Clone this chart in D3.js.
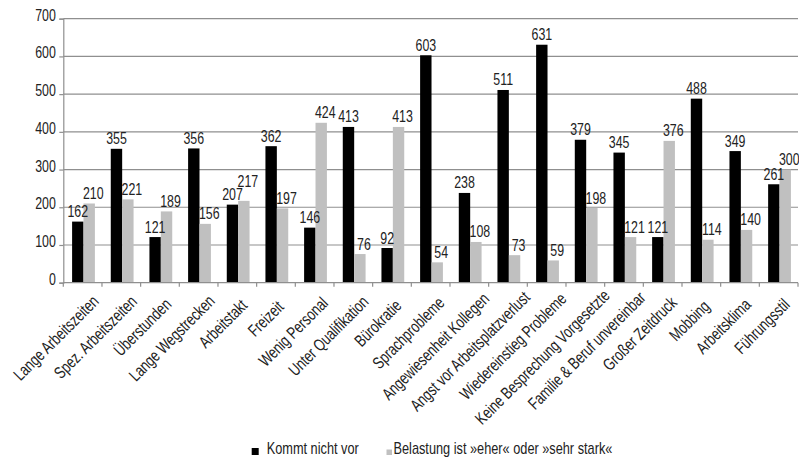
<!DOCTYPE html>
<html>
<head>
<meta charset="utf-8">
<script src="https://cdn.jsdelivr.net/npm/d3@7/dist/d3.min.js"></script>
<style>
  html, body { margin: 0; padding: 0; background: #fff; }
  svg { display: block; }
  text { font-family: "Liberation Sans", Arial, sans-serif; fill: #222; }
</style>
</head>
<body>
<svg id="chart" width="799" height="459"></svg>
<script>
// Belastungsfaktoren: "kommt nicht vor" vs. "Belastung ist eher oder sehr stark"
const categories = [
  "Lange Arbeitszeiten", "Spez. Arbeitszeiten", "Überstunden", "Lange Wegstrecken",
  "Arbeitstakt", "Freizeit", "Wenig Personal", "Unter Qualifikation", "Bürokratie",
  "Sprachprobleme", "Angewiesenheit Kollegen", "Angst vor Arbeitsplatzverlust",
  "Wiedereinstieg Probleme", "Keine Besprechung Vorgesetzte", "Familie & Beruf unvereinbar",
  "Großer Zeitdruck", "Mobbing", "Arbeitsklima", "Führungsstil"
];
const kommtNichtVor = [162, 355, 121, 356, 207, 362, 146, 413, 92, 603, 238, 511, 631, 379, 345, 121, 488, 349, 261];
const belastungStark = [210, 221, 189, 156, 217, 197, 424, 76, 413, 54, 108, 73, 59, 198, 121, 376, 114, 140, 300];
const seriesNames = ["Kommt nicht vor", "Belastung ist »eher« oder »sehr stark«"];
const yTicks = [0, 100, 200, 300, 400, 500, 600, 700];

const seriesColors = ["#000000", "#c0c0c0"];
const gridColor = "#8f8f8f";
const NARROW = 0.75;          // horizontal squeeze for a condensed look
const svg = d3.select("#chart");

const plotLeft = 63.3, plotRight = 798, plotTop = 18.7, plotBottom = 282.7;

const x0 = d3.scaleBand().domain(categories).range([plotLeft, plotRight]).padding(0);
const x1 = d3.scaleBand().domain([0, 1]).range([8.8, 31.6]).padding(0);
const y = d3.scaleLinear().domain([0, 700]).range([plotBottom, plotTop]);

// horizontal gridlines
svg.append("g")
  .selectAll("line")
  .data(yTicks.filter(d => d > 0))
  .join("line")
  .attr("x1", plotLeft).attr("x2", plotRight)
  .attr("y1", d => y(d)).attr("y2", d => y(d))
  .attr("stroke", gridColor).attr("stroke-width", 1.2);

// y axis
const yAxis = svg.append("g")
  .attr("transform", `translate(${plotLeft},0)`)
  .call(d3.axisLeft(y).tickValues(yTicks).tickSize(4).tickPadding(4).tickFormat(d3.format("d")));
yAxis.attr("font-family", null).attr("font-size", null);
yAxis.select(".domain").attr("stroke", gridColor).attr("stroke-width", 1.2);
yAxis.selectAll(".tick line").attr("stroke", gridColor).attr("stroke-width", 1.2);
yAxis.selectAll(".tick text")
  .attr("font-size", "16.5px")
  .attr("fill", "#222")
  .attr("x", null)
  .attr("dy", null)
  .attr("transform", `translate(-7.5,1.5) scale(${NARROW},1)`);

// bars
const rows = categories.map((c, i) => ({ cat: c, vals: [kommtNichtVor[i], belastungStark[i]] }));
const groups = svg.append("g")
  .selectAll("g")
  .data(rows)
  .join("g")
  .attr("transform", d => `translate(${x0(d.cat)},0)`);

groups.selectAll("rect")
  .data(d => d.vals.map((v, s) => ({ v, s })))
  .join("rect")
  .attr("x", d => x1(d.s))
  .attr("width", x1.bandwidth())
  .attr("y", d => y(d.v))
  .attr("height", d => y(0) - y(d.v))
  .attr("fill", d => seriesColors[d.s]);

// value labels: above each bar; when the pair would collide,
// the label of the taller bar is lifted above the other one
const labelGap = 4.5, labelHeight = 12.5, greyShift = 4;
groups.each(function (row) {
  const g = d3.select(this);
  const labels = row.vals.map((v, s) => {
    const t = g.append("text")
      .attr("class", "val")
      .attr("text-anchor", "middle")
      .attr("font-size", "16.5px")
      .text(v);
    return {
      node: t, v, s,
      cx: x1(s) + x1.bandwidth() / 2 + (s === 1 ? greyShift : 0),
      by: y(v) - labelGap,
      w: t.node().getComputedTextLength() * NARROW
    };
  });
  const [a, b] = labels;
  const overlapX = Math.abs(a.cx - b.cx) < (a.w + b.w) / 2;
  const overlapY = Math.abs(a.by - b.by) < labelHeight;
  if (overlapX && overlapY) {
    const hi = a.v >= b.v ? a : b, lo = hi === a ? b : a;
    hi.by = Math.min(hi.by, lo.by - labelHeight - 1);
  }
  labels.forEach(l => l.node.attr("transform", `translate(${l.cx},${l.by}) scale(${NARROW},1)`));
});

// x axis line and category ticks
const xAxisG = svg.append("g");
xAxisG.append("line")
  .attr("x1", plotLeft).attr("x2", plotRight)
  .attr("y1", plotBottom).attr("y2", plotBottom)
  .attr("stroke", gridColor).attr("stroke-width", 1.2);
xAxisG.selectAll("line.tick")
  .data(categories.map(c => x0(c)).concat([plotRight]))
  .join("line")
  .attr("class", "tick")
  .attr("x1", d => d).attr("x2", d => d)
  .attr("y1", plotBottom).attr("y2", plotBottom + 4)
  .attr("stroke", gridColor).attr("stroke-width", 1.2);

// rotated category labels
xAxisG.selectAll("text.cat")
  .data(categories)
  .join("text")
  .attr("class", "cat")
  .attr("font-size", "17px")
  .attr("text-anchor", "end")
  .attr("dy", "0.72em")
  .text(d => d)
  .each(function (d) {
    const len = this.getComputedTextLength() * NARROW;
    const cx = x0(d) + x0.bandwidth() / 2;
    const tx = cx - 5 + 0.12 * len;
    const ty = plotBottom + 20 - 0.08 * len;
    d3.select(this).attr("transform", `translate(${tx},${ty}) rotate(-45) scale(${NARROW},1)`);
  });

// legend
const legend = svg.append("g");
const legendItems = [
  { name: seriesNames[0], color: seriesColors[0], x: 251.7, size: 7, gap: 15 },
  { name: seriesNames[1], color: seriesColors[1], x: 386.5, size: 5.5, gap: 7 }
];
legendItems.forEach(it => {
  legend.append("rect")
    .attr("x", it.x).attr("y", 455 - it.size)
    .attr("width", it.size).attr("height", it.size)
    .attr("fill", it.color);
  legend.append("text")
    .attr("transform", `translate(${it.x + it.gap},453.5) scale(${NARROW},1)`)
    .attr("font-size", "17px")
    .text(it.name);
});
</script>
</body>
</html>
